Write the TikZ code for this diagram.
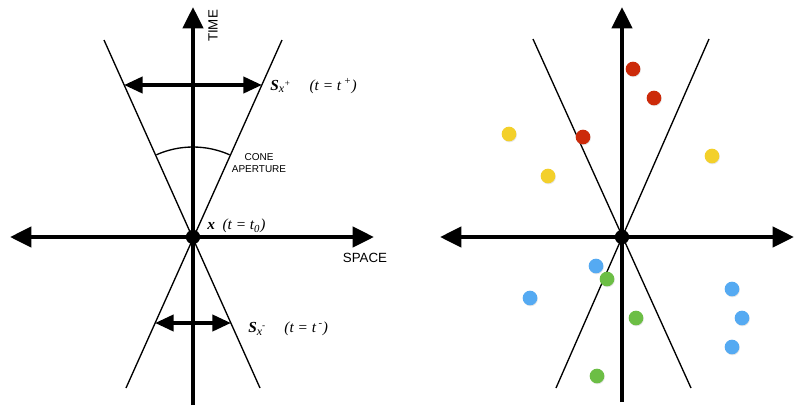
\documentclass[tikz,border=0pt]{standalone}
\usepackage{fontspec}
\setmainfont{Liberation Serif}
\setsansfont{Liberation Sans}
\usetikzlibrary{arrows.meta, positioning, calc, shadows}
\definecolor{ptred}{HTML}{CC2A0A}
\definecolor{ptyellow}{HTML}{F3D02A}
\definecolor{ptblue}{HTML}{55AAF2}
\definecolor{ptgreen}{HTML}{6CBE45}
\newcommand{\slabel}[1]{\textbf{S}\raisebox{-0.35ex}{\small x}\raisebox{0.55ex}{\scriptsize #1}}

\begin{document}
\begin{tikzpicture}[x=0.75pt, y=-0.75pt,
    axis/.style={line width=3.2pt, -{Triangle[length=16pt, width=15pt]}},
    axisboth/.style={line width=3.2pt, {Triangle[length=16pt, width=15pt]}-{Triangle[length=16pt, width=15pt]}},
    span/.style={line width=3pt, {Triangle[length=14pt, width=12pt]}-{Triangle[length=14pt, width=12pt]}},
    cone/.style={line width=1pt},
    origin/.style={circle, fill=black, inner sep=0pt, minimum size=10.5pt},
    pt/.style={circle, inner sep=0pt, minimum size=11pt,
               drop shadow={opacity=0.2, shadow xshift=0.4pt, shadow yshift=-0.7pt}},
    lbl/.style={font=\fontsize{11.5}{13}\selectfont\itshape, inner sep=0pt, anchor=west},
    axislabel/.style={font=\sffamily\fontsize{10}{12}\selectfont, inner sep=0pt}]
  \useasboundingbox (0,0) rectangle (794,405);

  % left: light cone
  \node[origin] (o) at (193,237) {};
  \coordinate (ul) at (104,40);  \coordinate (ur) at (282,40);
  \coordinate (dl) at (126,388); \coordinate (dr) at (260,388);
  \draw[cone] (ul) -- (dr);
  \draw[cone] (ur) -- (dl);
  \draw[cone] ($(o)+(-114:90)$) arc[start angle=-114, end angle=-66, radius=90];

  \coordinate (tb) at (193,405); \coordinate (tt) at (193,7);
  \coordinate (sl) at (10,237);  \coordinate (sr) at (374,237);
  \draw[axis] (tb) -- (tt);
  \draw[axisboth] (sl) -- (sr);
  \node[origin] at (o) {};

  \coordinate (fl) at (124,85);  \coordinate (fr) at (262,85);
  \coordinate (bl) at (155,323); \coordinate (br) at (231,323);
  \draw[span] (fl) -- (fr);
  \draw[span] (bl) -- (br);

  \node[axislabel, rotate=90] (time) at (213,26) {TIME};
  \node[axislabel] (space) at (365,258) {SPACE};
  \node[axislabel, font=\sffamily\fontsize{7.5}{9}\selectfont, align=center] (aper) at (259,163) {CONE\\APERTURE};
  \node[lbl] (splus) at (270,86) {\slabel{+}\quad\ (t = t\,\textsuperscript{+})};
  \node[lbl] (x0) at (207,226) {\textbf{x}\enspace (t = t\textsubscript{0})};
  \node[lbl] (sminus) at (248,329) {\slabel{-}\quad\ (t = t\,\textsuperscript{-})};

  % right: events around the cone
  \node[origin] (o2) at (622,237) {};
  \coordinate (ul2) at (533,39);  \coordinate (ur2) at (709,39);
  \coordinate (dl2) at (556,388); \coordinate (dr2) at (691,388);
  \draw[cone] (ul2) -- (dr2);
  \draw[cone] (ur2) -- (dl2);
  \coordinate (tb2) at (622,402); \coordinate (tt2) at (622,7);
  \coordinate (sl2) at (440,237); \coordinate (sr2) at (794,237);
  \draw[axis] (tb2) -- (tt2);
  \draw[axisboth] (sl2) -- (sr2);
  \node[origin] at (o2) {};

  \foreach \px/\py/\c [count=\i] in {633/69/ptred, 654/98/ptred, 583/137/ptred,
      509/134/ptyellow, 548/176/ptyellow, 712/156/ptyellow,
      596/266/ptblue, 530/298/ptblue, 732/289/ptblue, 742/318/ptblue, 732/347/ptblue,
      607/279/ptgreen, 636/318/ptgreen, 597/376/ptgreen}
    \node[pt, fill=\c] (p\i) at (\px,\py) {};
\end{tikzpicture}
\end{document}
